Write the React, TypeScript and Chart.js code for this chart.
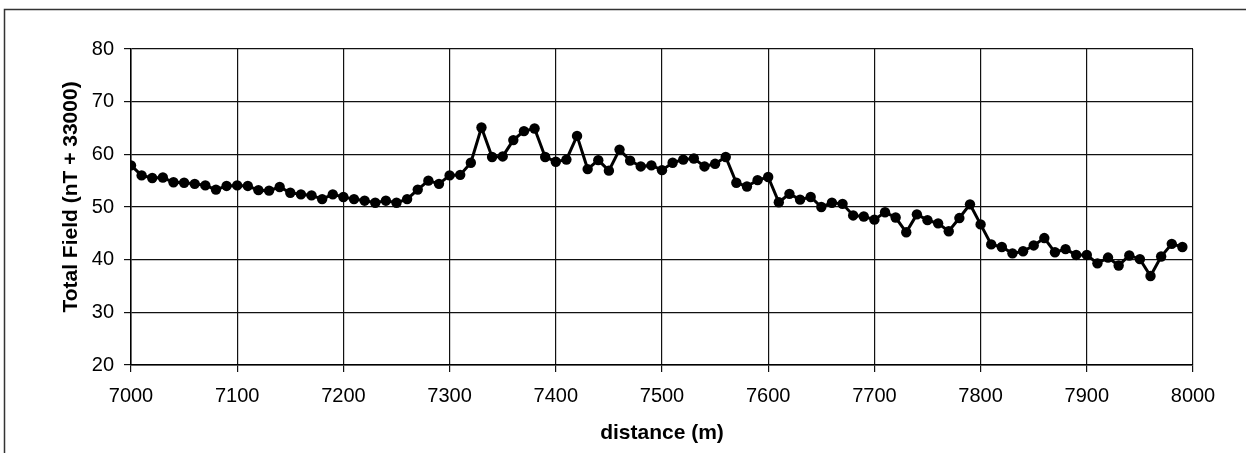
import React, { useEffect, useRef } from "react";
import { Chart, registerables } from "chart.js";

Chart.register(...registerables);

const distances: number[] = [
  7000, 7010, 7020, 7030, 7040, 7050, 7060, 7070, 7080, 7090,
  7100, 7110, 7120, 7130, 7140, 7150, 7160, 7170, 7180, 7190,
  7200, 7210, 7220, 7230, 7240, 7250, 7260, 7270, 7280, 7290,
  7300, 7310, 7320, 7330, 7340, 7350, 7360, 7370, 7380, 7390,
  7400, 7410, 7420, 7430, 7440, 7450, 7460, 7470, 7480, 7490,
  7500, 7510, 7520, 7530, 7540, 7550, 7560, 7570, 7580, 7590,
  7600, 7610, 7620, 7630, 7640, 7650, 7660, 7670, 7680, 7690,
  7700, 7710, 7720, 7730, 7740, 7750, 7760, 7770, 7780, 7790,
  7800, 7810, 7820, 7830, 7840, 7850, 7860, 7870, 7880, 7890,
  7900, 7910, 7920, 7930, 7940, 7950, 7960, 7970, 7980, 7990,
];

const totalField: number[] = [
  57.9, 56.0, 55.5, 55.6, 54.7, 54.6, 54.4, 54.1, 53.3, 54.0,
  54.1, 54.0, 53.2, 53.1, 53.8, 52.7, 52.4, 52.2, 51.5, 52.4,
  51.9, 51.5, 51.2, 50.8, 51.2, 50.8, 51.5, 53.3, 55.0, 54.4,
  56.0, 56.1, 58.4, 65.1, 59.5, 59.6, 62.7, 64.4, 64.9, 59.5,
  58.6, 59.0, 63.5, 57.2, 58.9, 56.9, 60.9, 58.8, 57.7, 57.9,
  57.0, 58.4, 59.0, 59.2, 57.7, 58.2, 59.5, 54.6, 53.9, 55.1,
  55.7, 50.9, 52.5, 51.4, 51.9, 50.0, 50.8, 50.6, 48.4, 48.2,
  47.6, 49.0, 48.0, 45.2, 48.6, 47.5, 46.9, 45.4, 47.9, 50.5,
  46.7, 42.9, 42.4, 41.2, 41.6, 42.7, 44.1, 41.4, 42.0, 40.9,
  40.9, 39.3, 40.4, 38.9, 40.8, 40.1, 36.9, 40.6, 43.0, 42.4,
];

const xMin = 7000;
const xMax = 8000;
const xStep = 100;
const yMin = 20;
const yMax = 80;
const yStep = 10;

const xTitle = "distance (m)";
const yTitle = "Total Field (nT + 33000)";

const FONT = '"Liberation Sans", Arial, Helvetica, sans-serif';

export default function App() {
  const canvasRef = useRef<HTMLCanvasElement | null>(null);

  useEffect(() => {
    const canvas = canvasRef.current;
    if (!canvas) return;

    const framePlugin = {
      id: "frameAndYTitle",
      beforeDraw(chart: any) {
        const ctx = chart.ctx;
        ctx.save();
        ctx.strokeStyle = "#333";
        ctx.lineWidth = 1.5;
        ctx.beginPath();
        ctx.moveTo(4.5, 453);
        ctx.lineTo(4.5, 9.5);
        ctx.lineTo(1246, 9.5);
        ctx.stroke();
        ctx.restore();
      },
      afterDraw(chart: any) {
        const ctx = chart.ctx;
        ctx.save();
        ctx.translate(71, 197);
        ctx.rotate(-Math.PI / 2);
        ctx.fillStyle = "#000";
        ctx.font = `bold 21px ${FONT}`;
        ctx.textAlign = "center";
        ctx.textBaseline = "middle";
        ctx.fillText(yTitle, 0, 0);
        ctx.restore();
      },
    };

    const chart = new Chart(canvas, {
      type: "line",
      data: {
        datasets: [
          {
            data: distances.map((d, i) => ({ x: d, y: totalField[i] })),
            borderColor: "#000",
            backgroundColor: "#000",
            borderWidth: 3,
            pointRadius: 5.2,
            pointBackgroundColor: "#000",
            pointBorderColor: "#000",
            pointBorderWidth: 0,
            tension: 0,
            fill: false,
          },
        ],
      },
      options: {
        responsive: false,
        animation: false,
        layout: { padding: { left: 0, top: 49, right: 53, bottom: 0 } },
        plugins: {
          legend: { display: false },
          tooltip: { enabled: false },
        },
        scales: {
          x: {
            type: "linear",
            min: xMin,
            max: xMax,
            afterFit: (scale: any) => {
              scale.height = 88;
            },
            ticks: {
              stepSize: xStep,
              color: "#000",
              padding: 12,
              maxRotation: 0,
              font: { family: FONT, size: 20 },
              callback: (v: any) => String(v),
            },
            grid: {
              color: "#111",
              lineWidth: 1.2,
              tickLength: 7,
              drawTicks: true,
            },
            border: { color: "#000", width: 1.5 },
            title: {
              display: true,
              text: xTitle,
              color: "#000",
              font: { family: FONT, size: 21, weight: "bold" },
              padding: { top: 0, bottom: 7 },
            },
          },
          y: {
            type: "linear",
            min: yMin,
            max: yMax,
            afterFit: (scale: any) => {
              scale.width = 131;
            },
            ticks: {
              stepSize: yStep,
              color: "#000",
              padding: 10,
              font: { family: FONT, size: 20 },
            },
            grid: {
              color: "#111",
              lineWidth: 1.2,
              tickLength: 7,
              drawTicks: true,
            },
            border: { color: "#000", width: 1.5 },
          },
        },
      },
      plugins: [framePlugin],
    });

    return () => {
      chart.destroy();
    };
  }, []);

  return (
    <div style={{ position: "absolute", left: 0, top: 0, width: 1246, height: 453, background: "#fff" }}>
      <canvas ref={canvasRef} width={1246} height={453} style={{ display: "block" }} />
    </div>
  );
}
